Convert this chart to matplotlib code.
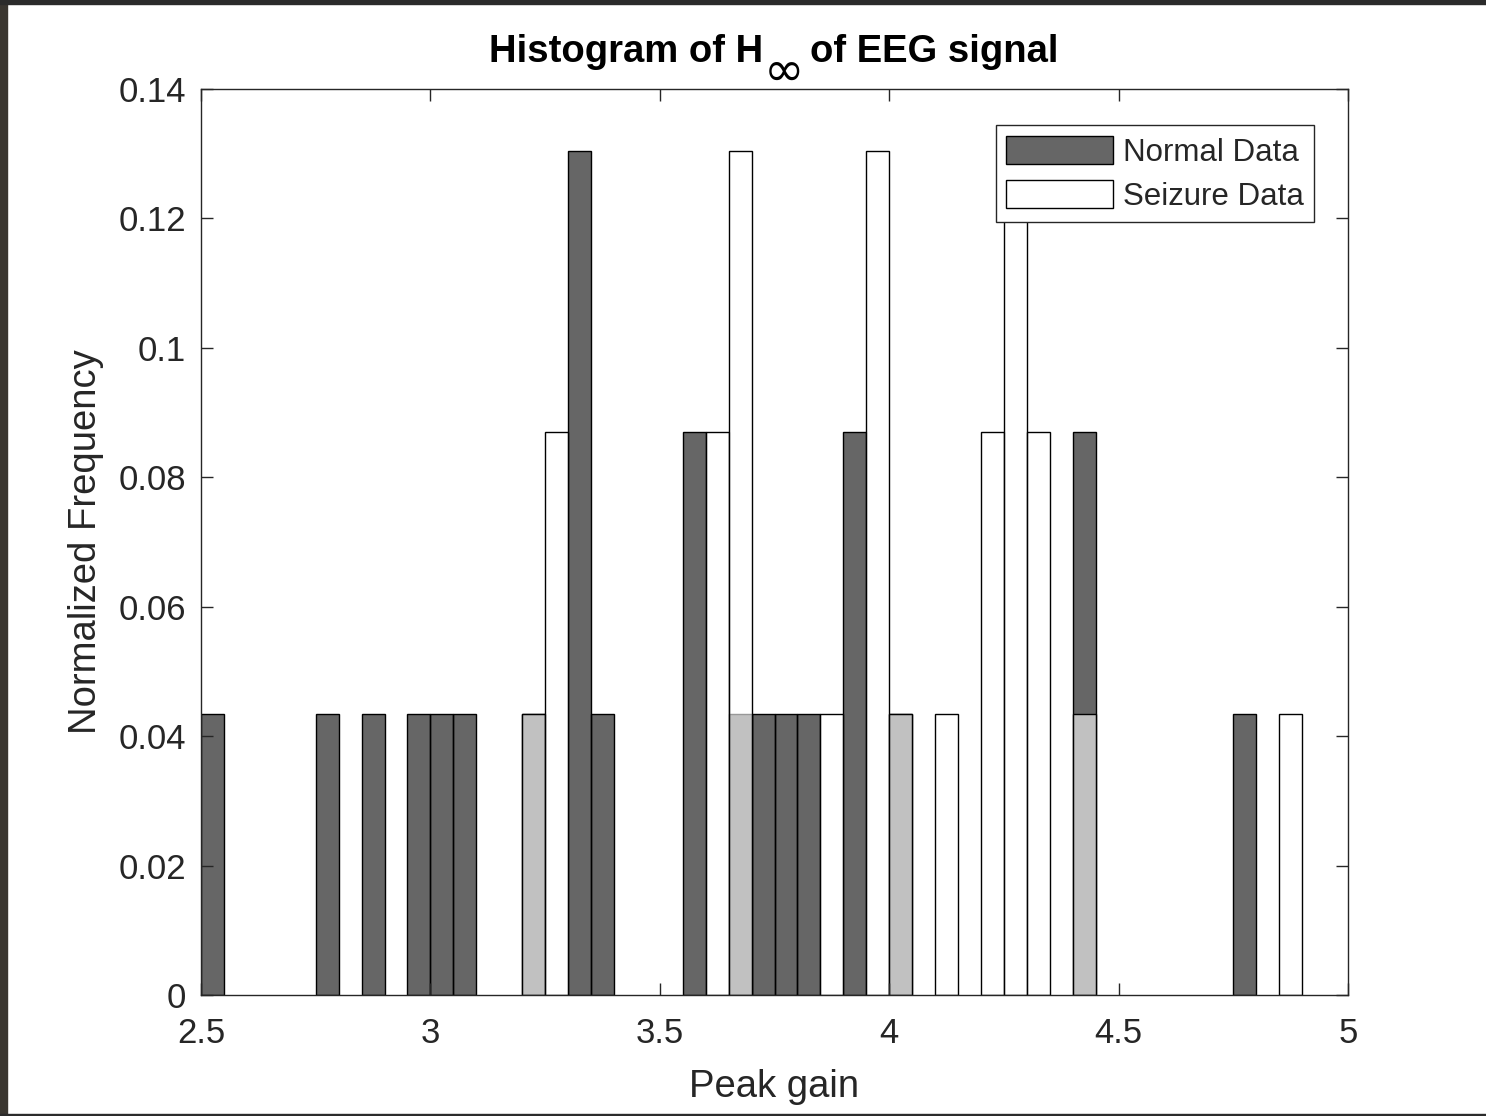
import matplotlib
matplotlib.use("Agg")
import matplotlib.pyplot as plt
from matplotlib.patches import Rectangle

# histogram data (bin left edges, counts), bin width 0.05, 23 samples per class
bin_width = 0.05
n_samples = 23
normal_left = [2.50, 2.75, 2.85, 2.95, 3.00, 3.05, 3.20, 3.30, 3.35, 3.55,
               3.65, 3.70, 3.75, 3.80, 3.90, 4.00, 4.40, 4.75]
normal_count = [1, 1, 1, 1, 1, 1, 1, 3, 1, 2, 1, 1, 1, 1, 2, 1, 2, 1]
seizure_left = [3.20, 3.25, 3.60, 3.65, 3.85, 3.95, 4.00, 4.10, 4.20, 4.25,
                4.30, 4.40, 4.85]
seizure_count = [1, 2, 2, 3, 1, 3, 1, 1, 2, 3, 2, 1, 1]

xticks = [2.5, 3, 3.5, 4, 4.5, 5]
xtick_labels = ['2.5', '3', '3.5', '4', '4.5', '5']
yticks = [0, 0.02, 0.04, 0.06, 0.08, 0.1, 0.12, 0.14]
ytick_labels = ['0', '0.02', '0.04', '0.06', '0.08', '0.1', '0.12', '0.14']

plt.rcParams['font.family'] = ['Liberation Sans', 'DejaVu Sans']

fig = plt.figure(figsize=(14.86, 11.16), dpi=100)
ax = fig.add_axes([0.1353, 0.1084, 0.9071 - 0.1353, 0.9203 - 0.1084])

axc = '#262626'
ax.bar(normal_left, [c / n_samples for c in normal_count], width=bin_width,
       align='edge', facecolor=(0, 0, 0, 0.6), edgecolor='k', linewidth=1.0,
       label='Normal Data')
ax.bar(seizure_left, [c / n_samples for c in seizure_count], width=bin_width,
       align='edge', facecolor=(1, 1, 1, 0.6), edgecolor='k', linewidth=1.0,
       label='Seizure Data')

ax.set_xlim(2.5, 5)
ax.set_ylim(0, 0.14)
ax.set_xticks(xticks)
ax.set_xticklabels(xtick_labels)
ax.set_yticks(yticks)
ax.set_yticklabels(ytick_labels)
ax.tick_params(direction='in', length=8.5, width=1.0, color=axc,
               labelcolor=axc, labelsize=25, top=True, right=True)
ax.tick_params(axis='x', pad=15.5)
ax.tick_params(axis='y', pad=11)
for s in ax.spines.values():
    s.set_color(axc)
    s.set_linewidth(1.0)

# title: H with a full-size, lowered infinity sign (as in the MATLAB export)
ty = 1.0298
ax.text(0.49, ty, 'Histogram of H', transform=ax.transAxes, ha='right',
        va='baseline', fontsize=27.5, fontweight='bold')
ax.text(0.5065, 1.0185, r'$\infty$', transform=ax.transAxes, ha='center',
        va='center', fontsize=35)
ax.text(0.531, ty, 'of EEG signal', transform=ax.transAxes, ha='left',
        va='baseline', fontsize=27.5, fontweight='bold')

ax.set_xlabel('Peak gain', fontsize=27.5, color=axc, labelpad=14)
ax.set_ylabel('Normalized Frequency', fontsize=27.5, color=axc, labelpad=10)

leg = ax.legend(loc='upper right', bbox_to_anchor=(0.9704, 0.9603),
                borderaxespad=0, fontsize=22.5, fancybox=False, framealpha=1,
                edgecolor=axc, handlelength=3.4, handleheight=1.03,
                handletextpad=0.32, labelspacing=0.39, borderpad=0.34)
leg.get_frame().set_linewidth(1.0)
for t in leg.get_texts():
    t.set_color(axc)

# dark screenshot border
fig.add_artist(Rectangle((0, 0), 7 / 1486, 1, transform=fig.transFigure,
                         color='#3a3630', zorder=10))
fig.add_artist(Rectangle((0, 1 - 4 / 1116), 1, 4 / 1116, transform=fig.transFigure,
                         color='#2b2b2b', zorder=10))
fig.add_artist(Rectangle((0, 0), 1, 2 / 1116, transform=fig.transFigure,
                         color='#2b2b2b', zorder=10))

fig.savefig('out.png', dpi=100)
